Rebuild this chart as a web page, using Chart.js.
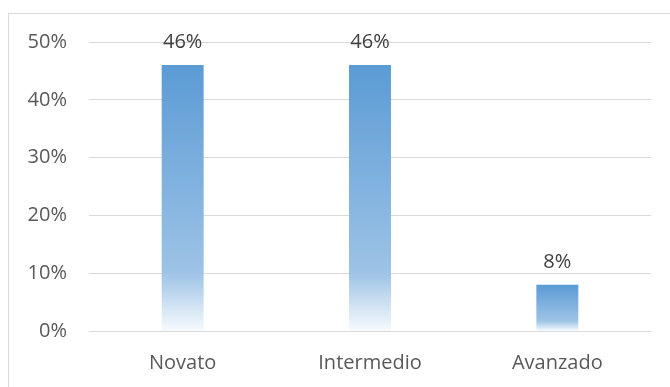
<!DOCTYPE html>
<html>
<head>
<meta charset="utf-8">
<script src="https://cdn.jsdelivr.net/npm/chart.js@4/dist/chart.umd.min.js"></script>
<style>
  html, body { margin: 0; padding: 0; background: #fff; }
  #wrap { width: 670px; height: 387px; }
</style>
</head>
<body>
<div id="wrap"><canvas id="levelChart" width="670" height="387"></canvas></div>
<script>
// chart data
const categories = ["Novato", "Intermedio", "Avanzado"];
const percentages = [46, 46, 8];
const yTicks = [0, 10, 20, 30, 40, 50];

const FONT = "'Open Sans', 'Liberation Sans', sans-serif";

// light frame around the chart (only top/left fall inside the picture)
const framePlugin = {
  id: "frame",
  beforeDraw(chart) {
    const c = chart.ctx;
    c.save();
    c.strokeStyle = "#D9D9D9";
    c.lineWidth = 1;
    c.strokeRect(8.5, 13.5, 720, 420);
    c.restore();
  },
};

// value labels above each bar
const valueLabels = {
  id: "valueLabels",
  afterDatasetsDraw(chart) {
    const c = chart.ctx;
    const meta = chart.getDatasetMeta(0);
    c.save();
    c.font = "20px " + FONT;
    c.fillStyle = "#404040";
    c.textAlign = "center";
    c.textBaseline = "alphabetic";
    meta.data.forEach((bar, i) => {
      c.fillText(percentages[i] + "%", bar.x, bar.y - 17);
    });
    c.restore();
  },
};

// per-bar gradient, blue on top fading to white at the base
function barGradient(context) {
  const chart = context.chart;
  const y = chart.scales.y;
  if (!y || context.raw === undefined) return "#5B9BD5";
  const top = y.getPixelForValue(context.raw);
  const base = y.getPixelForValue(0);
  if (!isFinite(top) || !isFinite(base) || top === base) return "#5B9BD5";
  const g = chart.ctx.createLinearGradient(0, top, 0, base);
  g.addColorStop(0, "#5B9BD5");
  g.addColorStop(0.78, "#9DC3E6");
  g.addColorStop(1, "#F7FAFD");
  return g;
}

const ctx = document.getElementById("levelChart").getContext("2d");
const chart = new Chart(ctx, {
  type: "bar",
  data: {
    labels: categories,
    datasets: [
      {
        data: percentages,
        backgroundColor: barGradient,
        borderWidth: 0,
        categoryPercentage: 1,
        barPercentage: 0.224,
      },
    ],
  },
  options: {
    responsive: false,
    animation: false,
    layout: { padding: { top: 42, right: 19, left: 0, bottom: 0 } },
    plugins: {
      legend: { display: false },
      tooltip: { enabled: false },
    },
    scales: {
      x: {
        grid: { display: false, drawTicks: false },
        border: { display: false },
        ticks: {
          color: "#595959",
          font: { family: FONT, size: 20 },
          padding: 20,
        },
        afterFit(scale) {
          scale.height = 56;
        },
      },
      y: {
        min: 0,
        max: 50,
        afterBuildTicks(scale) {
          scale.ticks = yTicks.map((v) => ({ value: v }));
        },
        grid: { color: "#D9D9D9", lineWidth: 1, drawTicks: false },
        border: { display: false },
        ticks: {
          color: "#595959",
          font: { family: FONT, size: 20 },
          padding: 22,
          callback: (v) => v + "%",
        },
        afterFit(scale) {
          scale.width = 89;
        },
      },
    },
  },
  plugins: [framePlugin, valueLabels],
});
// second pass so the gradients see the laid-out scale
chart.update("none");
</script>
</body>
</html>
